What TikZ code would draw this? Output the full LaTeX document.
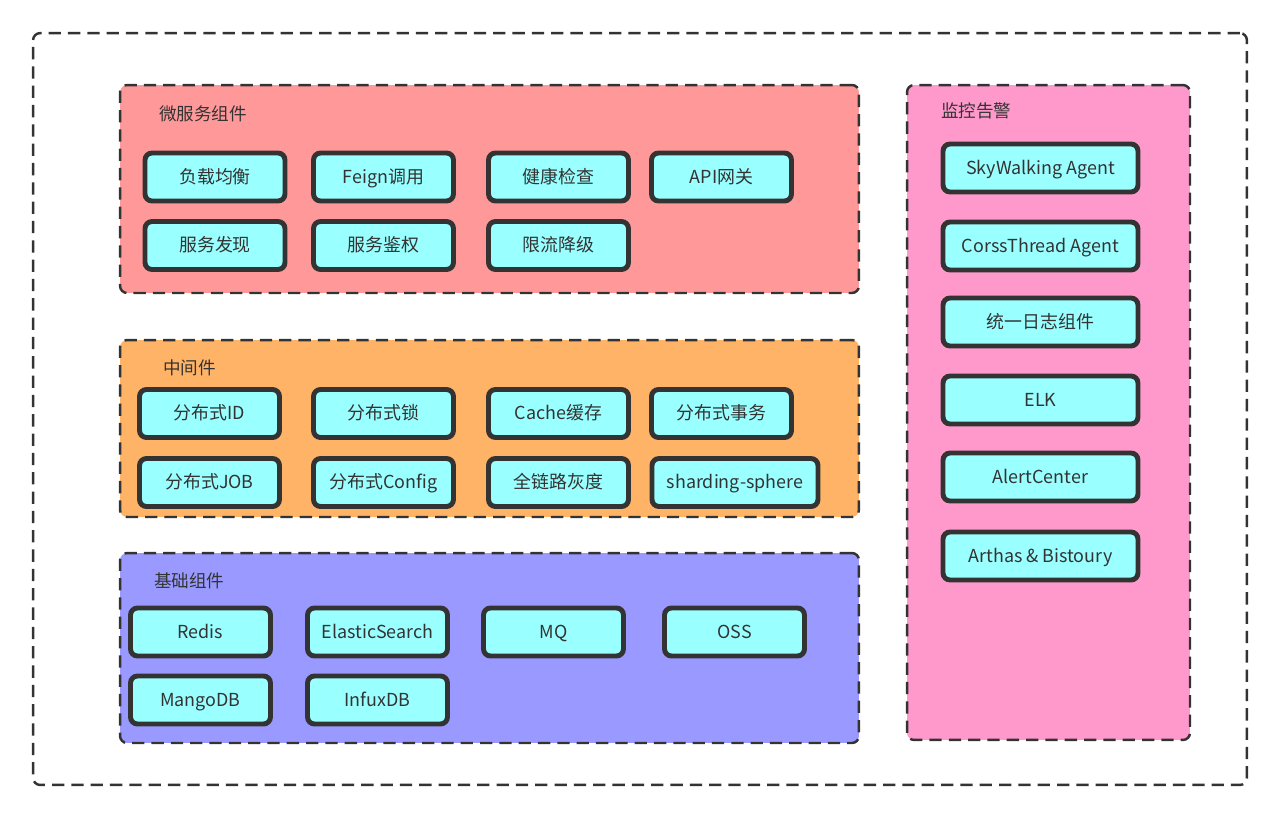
\documentclass[tikz,border=0pt]{standalone}
\usepackage{fontspec}
\setmainfont{Noto Sans CJK SC}
\usepackage{xcolor}
\usepackage{tikz}
\usetikzlibrary{positioning}

\definecolor{edgegray}{HTML}{333333}
\definecolor{msred}{HTML}{FF9999}
\definecolor{mworange}{HTML}{FFB366}
\definecolor{basepurple}{HTML}{9999FF}
\definecolor{monpink}{HTML}{FF99CC}
\definecolor{itemcyan}{HTML}{99FFFF}

\begin{document}
\begin{tikzpicture}[
  x=0.02cm, y=-0.02cm,
  panel/.style  = {draw=edgegray, line width=1.4pt, dash pattern=on 7pt off 4pt,
                   rounded corners=4pt, inner sep=0pt},
  ptitle/.style = {anchor=west, font=\fontsize{10}{12}\selectfont, text=edgegray},
  item/.style   = {draw=edgegray, fill=itemcyan, line width=2.8pt, rounded corners=4pt,
                   minimum width=2.8cm, minimum height=0.96cm, inner sep=0pt,
                   text height=0.95em, text depth=0.25em,
                   font=\fontsize{10.2}{12}\selectfont, text=edgegray},
]
\useasboundingbox (0,0) rectangle (1280,818);

%% ─── panels ───────────────────────────────────────────────────────────────
\node[panel, minimum width=24.28cm, minimum height=15.04cm] (outer) at (640,409) {};
\node[panel, fill=msred, minimum width=14.78cm, minimum height=4.16cm] (micro) at (489.5,189) {};
\node[panel, fill=mworange, minimum width=14.78cm, minimum height=3.54cm] (mid) at (489.5,428.5) {};
\node[panel, fill=basepurple, minimum width=14.78cm, minimum height=3.8cm] (base) at (489.5,648) {};
\node[panel, fill=monpink, minimum width=5.66cm, minimum height=13.1cm] (mon) at (1048.5,412.5) {};

\node[ptitle] (tmicro) at (153,114) {微服务组件};
\node[ptitle] (tmid)   at (157,368) {中间件};
\node[ptitle] (tbase)  at (148,581) {基础组件};
\node[ptitle] (tmon)   at (935,111) {监控告警};

%% ─── 微服务组件 ────────────────────────────────────────────────────────────
\foreach \n/\x/\y/\t in {m1/215/177/负载均衡, m2/383.5/177/Feign调用,
                         m3/558.5/177/健康检查, m4/721.5/177/API网关,
                         m5/215/245.5/服务发现, m6/383.5/245.5/服务鉴权,
                         m7/558.5/245.5/限流降级}
  \node[item] (\n) at (\x,\y) {\t};

%% ─── 中间件 ───────────────────────────────────────────────────────────────
\foreach \n/\x/\y/\t in {w1/209.5/413.5/分布式ID, w2/383.5/413.5/分布式锁,
                         w3/558.5/413.5/Cache缓存, w4/721.5/413.5/分布式事务,
                         w5/209.5/482.5/分布式JOB, w6/383.5/482.5/分布式Config,
                         w7/558.5/482.5/全链路灰度}
  \node[item] (\n) at (\x,\y) {\t};
\node[item, minimum width=3.32cm] (w8) at (735,482.5) {sharding-sphere};

%% ─── 基础组件 ─────────────────────────────────────────────────────────────
\foreach \n/\x/\y/\t in {b1/200.5/632/Redis, b2/377.5/632/ElasticSearch,
                         b3/553.5/632/MQ, b4/734.5/632/OSS,
                         b5/200.5/700/MangoDB, b6/377.5/700/InfuxDB}
  \node[item] (\n) at (\x,\y) {\t};

%% ─── 监控告警 ─────────────────────────────────────────────────────────────
\foreach \n/\y/\t in {k1/168/SkyWalking Agent, k2/246/CorssThread Agent,
                      k3/322/统一日志组件, k4/400/ELK,
                      k5/477/AlertCenter, k6/556/Arthas \& Bistoury}
  \node[item, minimum width=3.9cm] (\n) at (1040.5,\y) {\t};

\end{tikzpicture}
\end{document}
